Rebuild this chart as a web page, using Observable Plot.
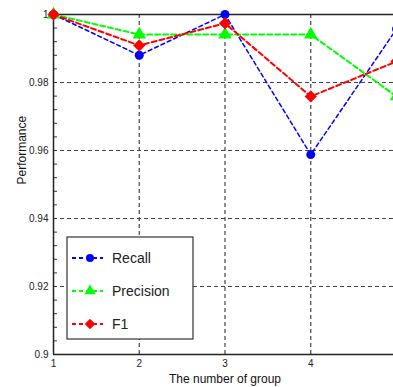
<!DOCTYPE html>
<html><head><meta charset="utf-8">
<script src="https://cdn.jsdelivr.net/npm/d3@7"></script>
<script src="https://cdn.jsdelivr.net/npm/@observablehq/plot@0.6"></script>
<style>
body{margin:0;background:#fff;}
#chart{width:393px;height:387px;overflow:hidden;}
svg{font-family:"Liberation Sans",Arial,sans-serif;}
</style>
</head><body><div id="chart"></div>
<script>
const groups = [1, 2, 3, 4, 5];
const recall = [1.0, 0.988, 1.0, 0.9588, 0.9957];
const precision = [1.0, 0.9941, 0.9941, 0.9941, 0.9759];
const f1 = [1.0, 0.9909, 0.9974, 0.9759, 0.9862];
const seriesNames = ["Recall", "Precision", "F1"];
const seriesColors = ["#0000ff", "#00ff00", "#ff0000"];
const yTicks = [0.9, 0.92, 0.94, 0.96, 0.98, 1.0];
const xTicks = [1, 2, 3, 4];
const minorY = d3.range(0, 26).map(i => +(0.9 + i * 0.004).toFixed(3));

const rows = [];
[recall, precision, f1].forEach((vals, s) => groups.forEach((g, i) => rows.push({series: seriesNames[s], x: g, y: vals[i]})));
const bySeries = n => rows.filter(r => r.series === n);

const W = 393, H = 387;
const chart = Plot.plot({
  width: W, height: H,
  marginLeft: 53, marginRight: 0, marginTop: 14, marginBottom: 33,
  style: {fontFamily: "Liberation Sans, Arial, sans-serif", background: "#fff", overflow: "visible"},
  x: {domain: [1, 4.965]},
  y: {domain: [0.9, 1.0]},
  marks: [
    Plot.gridY(yTicks.filter(v => v > 0.9 && v < 1), {stroke: "#444", strokeOpacity: 1, strokeDasharray: "4,3", strokeWidth: 1.2}),
    Plot.gridX(xTicks.filter(v => v > 1), {stroke: "#444", strokeOpacity: 1, strokeDasharray: "4,3", strokeWidth: 1.2}),
    Plot.axisY({ticks: minorY, tickSize: -4, text: null, stroke: "#333", label: null}),
    Plot.axisY({ticks: yTicks, tickSize: 0, tickPadding: 5, tickFormat: d3.format("~g"), fontSize: 10, fill: "#222", label: null}),
    Plot.axisX({ticks: xTicks, tickSize: 0, tickPadding: 5, tickFormat: d3.format("d"), fontSize: 10, fill: "#222", label: null}),
    Plot.ruleY([0.9], {stroke: "#222", strokeWidth: 1.5}),
    Plot.ruleY([1.0], {stroke: "#222", strokeWidth: 1.5}),
    Plot.ruleX([1], {stroke: "#222", strokeWidth: 1.5}),
    Plot.line(bySeries("Recall"), {x: "x", y: "y", stroke: seriesColors[0], strokeWidth: 1.5, strokeDasharray: "4,3", clip: true}),
    Plot.line(bySeries("Precision"), {x: "x", y: "y", stroke: seriesColors[1], strokeWidth: 2, strokeDasharray: "5,3", clip: true}),
    Plot.line(bySeries("F1"), {x: "x", y: "y", stroke: seriesColors[2], strokeWidth: 2, strokeDasharray: "5,3", clip: true}),
    Plot.dot(bySeries("Recall"), {x: "x", y: "y", r: 4.5, fill: seriesColors[0], stroke: "none"}),
    Plot.dot(bySeries("Precision"), {x: "x", y: "y", r: 5, symbol: "triangle", fill: seriesColors[1], stroke: "none"}),
    Plot.dot(bySeries("F1"), {x: "x", y: "y", r: 5.5, symbol: "diamond2", fill: seriesColors[2], stroke: "none"}),
    Plot.text(["The number of group"], {frameAnchor: "bottom", dy: 28, fontSize: 12, fill: "#111", x: () => 3, y: () => 0.9}),
    Plot.text(["Performance"], {frameAnchor: "left", rotate: -90, dx: -31, fontSize: 12, fill: "#111", x: () => 1, y: () => 0.95})
  ]
});
document.getElementById("chart").appendChild(chart);

// legend box (drawn into the same SVG)
const svg = d3.select(chart);
const lg = svg.append("g").attr("transform", "translate(67,237)");
lg.append("rect").attr("width", 126).attr("height", 102).attr("fill", "#fff").attr("stroke", "#333").attr("stroke-width", 1.2);
const symbols = [d3.symbolCircle, d3.symbolTriangle, d3.symbolDiamond2];
const sizes = [50, 56, 70];
seriesNames.forEach((n, i) => {
  const yy = 21 + i * 33;
  lg.append("line").attr("x1", 5).attr("x2", 36).attr("y1", yy).attr("y2", yy)
    .attr("stroke", seriesColors[i]).attr("stroke-width", 2).attr("stroke-dasharray", "4,3");
  lg.append("path").attr("d", d3.symbol(symbols[i], sizes[i])()).attr("transform", `translate(23,${yy})`).attr("fill", seriesColors[i]);
  lg.append("text").attr("x", 45).attr("y", yy).attr("dy", "0.36em").attr("text-anchor", "start")
    .attr("font-size", 14).attr("fill", "#222").text(n);
});
</script>
</body></html>
